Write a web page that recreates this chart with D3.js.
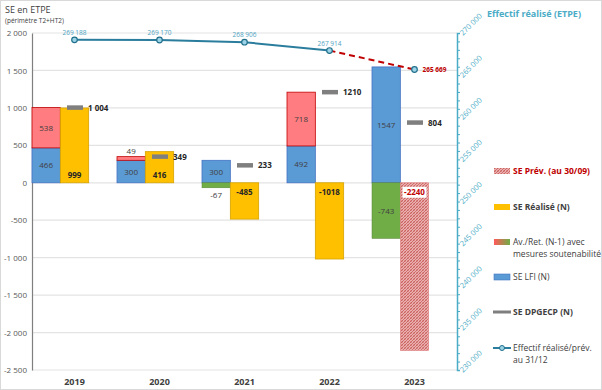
<!DOCTYPE html>
<html><head><meta charset="utf-8">
<script src="https://cdn.jsdelivr.net/npm/d3@7"></script>
<style>
body{margin:0;background:#fff;}
svg{display:block;font-family:"Open Sans",sans-serif;}
</style></head>
<body><svg id="c" width="602" height="390"></svg>
<script>
const years = ["2019","2020","2021","2022","2023"];
const lfi = [466, 300, 300, 492, 1547];
const avRet = [538, 49, -67, 718, -743];
const realise = [999, 416, -485, -1018, null];
const prev = [null, null, null, null, -2240];
const dpgecp = [1004, 349, 233, 1210, 804];
const dpgecpLabels = ["1 004", "349", "233", "1210", "804"];
const effectif = [269188, 269170, 268906, 267914, 265669];
const effectifLabels = ["269 188","269 170","268 906","267 914","265 669"];
const leftTicks = [2000,1500,1000,500,0,-500,-1000,-1500,-2000,-2500];
const rightTicks = [270000,265000,260000,255000,250000,245000,240000,235000,230000];

const svg = d3.select("#c");
const fmt = v => { const s = d3.format(",")(Math.abs(v)).replace(/,/g," "); return (v<0?"-":"")+s; };

svg.append("rect").attr("x",0.5).attr("y",0.5).attr("width",601).attr("height",389)
  .attr("fill","none").attr("stroke","#d9d9d9");

const y = d3.scaleLinear().domain([-2500,2000]).range([370,33]);
const yR = d3.scaleLinear().domain([230000,270000]).range([370,33]);
const x = d3.scaleBand().domain(years).range([32,457]).paddingInner(0);
const bw = x.bandwidth()/3;

const defs = svg.append("defs");
const pat = defs.append("pattern").attr("id","hatch").attr("patternUnits","userSpaceOnUse")
  .attr("width",3).attr("height",3);
pat.append("rect").attr("width",3).attr("height",3).attr("fill","#eab0b0");
pat.append("path").attr("d","M0,3 L3,0 M-1,1 L1,-1 M2,4 L4,2").attr("stroke","#c0504d").attr("stroke-width",0.8);
pat.append("path").attr("d","M0,0 L3,3").attr("stroke","#d87878").attr("stroke-width",0.6);
const grad = defs.append("linearGradient").attr("id","rg");
grad.append("stop").attr("offset","0%").attr("stop-color","#ff5a5a");
grad.append("stop").attr("offset","100%").attr("stop-color","#70ad47");

svg.append("g").selectAll("line").data(leftTicks).join("line")
  .attr("x1",32).attr("x2",457).attr("y1",d=>y(d)).attr("y2",d=>y(d))
  .attr("stroke","#e3e3e3").attr("stroke-width",1.2);

const la = svg.append("g").attr("transform","translate(32,0)")
  .call(d3.axisLeft(y).tickValues(leftTicks).tickSize(0).tickPadding(5).tickFormat(fmt));
la.select(".domain").attr("stroke","#7f7f7f").attr("stroke-width",1.2);
la.selectAll("text").attr("font-size",8).attr("fill","#595959").attr("font-family","Open Sans");

const ra = svg.append("g").attr("transform","translate(457,0)")
  .call(d3.axisRight(yR).ticks(40).tickSize(3).tickFormat(""));
ra.select(".domain").attr("stroke","#4bacc6").attr("stroke-width",1.5);
ra.selectAll(".tick line").attr("stroke","#4bacc6");
svg.append("g").selectAll("text").data(rightTicks).join("text")
  .attr("transform",d=>`translate(463,${yR(d)+3}) rotate(-45)`)
  .attr("font-size",7.5).attr("fill","#4bacc6").text(fmt);

svg.append("text").attr("x",5).attr("y",13).attr("font-size",9).attr("fill","#404040").text("SE en ETPE");
svg.append("text").attr("x",5).attr("y",23).attr("font-size",6.5).attr("fill","#404040").text("(périmètre T2+HT2)");
svg.append("text").attr("x",487).attr("y",17).attr("font-size",9).attr("font-weight","bold").attr("fill","#4bacc6").text("Effectif réalisé (ETPE)");

const g = svg.append("g");
years.forEach((yr,i)=>{
  const x0 = x(yr);
  g.append("rect").attr("x",x0).attr("width",bw).attr("y",y(lfi[i])).attr("height",y(0)-y(lfi[i]))
    .attr("fill","#5b9bd5").attr("stroke","#4472c4").attr("stroke-width",0.8);
  const a = avRet[i];
  if (a>=0){
    g.append("rect").attr("x",x0).attr("width",bw).attr("y",y(lfi[i]+a)).attr("height",y(lfi[i])-y(lfi[i]+a))
      .attr("fill","#ff7c80").attr("stroke","#c00000").attr("stroke-width",0.8);
  } else {
    g.append("rect").attr("x",x0).attr("width",bw).attr("y",y(0)).attr("height",y(a)-y(0))
      .attr("fill","#70ad47").attr("stroke","#548235").attr("stroke-width",0.5);
  }
  const r = realise[i];
  if (r!==null){
    g.append("rect").attr("x",x0+bw).attr("width",bw).attr("y",y(Math.max(r,0))).attr("height",Math.abs(y(r)-y(0)))
      .attr("fill","#ffc000").attr("stroke","#d6a300").attr("stroke-width",0.8);
  }
  const p = prev[i];
  if (p!==null){
    g.append("rect").attr("x",x0+bw).attr("width",bw).attr("y",y(0)).attr("height",y(p)-y(0))
      .attr("fill","url(#hatch)").attr("stroke","#e08080").attr("stroke-width",0.6);
  }
});

const lab = svg.append("g").attr("font-size",8).attr("text-anchor","middle");
years.forEach((yr,i)=>{
  const cx = x(yr)+bw/2;
  lab.append("text").attr("x",cx).attr("y",(y(lfi[i])+y(0))/2+3).attr("fill","#404040").text(lfi[i]);
  const a = avRet[i];
  let ay;
  if (a>=0){ ay = (y(lfi[i])-y(lfi[i]+a)) > 14 ? (y(lfi[i]+a)+y(lfi[i]))/2+3 : y(lfi[i]+a)-3; }
  else { ay = (y(a)-y(0)) > 14 ? (y(a)+y(0))/2+3 : y(a)+10; }
  lab.append("text").attr("x",cx).attr("y",ay).attr("fill","#404040").text(a);
  const r = realise[i];
  if (r!==null){
    lab.append("text").attr("x",cx+bw).attr("y",r>=0?y(0)-5:y(0)+12).attr("font-weight","bold").attr("fill","#262626").text(r);
  }
  const p = prev[i];
  if (p!==null){
    lab.append("rect").attr("x",cx+bw-12).attr("y",y(0)+4).attr("width",24).attr("height",11).attr("fill","#fff");
    lab.append("text").attr("x",cx+bw).attr("y",y(0)+12.5).attr("font-weight","bold").attr("fill","#c00000").text(p);
  }
  svg.append("line").attr("x1",x(yr)+35).attr("x2",x(yr)+51).attr("y1",y(dpgecp[i])).attr("y2",y(dpgecp[i]))
    .attr("stroke","#7f7f7f").attr("stroke-width",4.5);
  svg.append("text").attr("x",x(yr)+56).attr("y",y(dpgecp[i])+3).attr("font-size",8).attr("font-weight","bold")
    .attr("fill","#262626").text(dpgecpLabels[i]);
});

const pts = years.map((yr,i)=>[x(yr)+x.bandwidth()/2, yR(effectif[i])]);
const line = d3.line();
svg.append("path").attr("d",line(pts.slice(0,4))).attr("fill","none").attr("stroke","#2a7d9c").attr("stroke-width",2);
svg.append("path").attr("d",line(pts.slice(3))).attr("fill","none").attr("stroke","#c00000").attr("stroke-width",2).attr("stroke-dasharray","6,4");
svg.append("g").selectAll("circle").data(pts).join("circle")
  .attr("cx",d=>d[0]).attr("cy",d=>d[1]).attr("r",2.8)
  .attr("fill","#9dd3e6").attr("stroke","#1f6f8b").attr("stroke-width",1.2);
pts.forEach((p,i)=>{
  if (i<4) svg.append("text").attr("x",p[0]).attr("y",p[1]-5).attr("text-anchor","middle")
    .attr("font-size",6.5).attr("fill","#4fa3bf").text(effectifLabels[i]);
  else svg.append("text").attr("x",p[0]+8).attr("y",p[1]+2.5)
    .attr("font-size",6.5).attr("font-weight","bold").attr("fill","#c00000").text(effectifLabels[i]);
});

svg.append("g").selectAll("text").data(years).join("text")
  .attr("x",d=>x(d)+x.bandwidth()/2).attr("y",385).attr("text-anchor","middle")
  .attr("font-size",9).attr("font-weight","bold").attr("fill","#404040").text(d=>d);

const L = svg.append("g").attr("font-size",8.5);
const items = [
  {y:172, type:"rect", fill:"url(#hatch)", lines:["SE Prév. (au 30/09)"], color:"#c00000", bold:true},
  {y:208, type:"rect", fill:"#ffc000", lines:["SE Réalisé (N)"], color:"#404040", bold:true},
  {y:243, type:"rect", fill:"url(#rg)", lines:["Av./Ret. (N-1) avec","mesures soutenabilité"], color:"#404040", bold:false},
  {y:278, type:"rect", fill:"#5b9bd5", lines:["SE LFI (N)"], color:"#404040", bold:false},
  {y:313, type:"line", lines:["SE DPGECP (N)"], color:"#404040", bold:true},
  {y:349, type:"marker", lines:["Effectif réalisé/prév.","au 31/12"], color:"#404040", bold:false}
];
items.forEach(it=>{
  if (it.type==="rect") L.append("rect").attr("x",494).attr("y",it.y-4).attr("width",16).attr("height",6).attr("fill",it.fill)
    .attr("stroke",it.fill==="#5b9bd5"?"#4472c4":"none").attr("stroke-width",0.6);
  else if (it.type==="line") L.append("line").attr("x1",493).attr("x2",511).attr("y1",it.y-1).attr("y2",it.y-1).attr("stroke","#7f7f7f").attr("stroke-width",3);
  else {
    L.append("line").attr("x1",493).attr("x2",511).attr("y1",it.y-1).attr("y2",it.y-1).attr("stroke","#2a7d9c").attr("stroke-width",2);
    L.append("circle").attr("cx",502).attr("cy",it.y-1).attr("r",2.5).attr("fill","#9dd3e6").attr("stroke","#1f6f8b");
  }
  it.lines.forEach((t,j)=>L.append("text").attr("x",513).attr("y",it.y+2+j*12).attr("fill",it.color)
    .attr("font-weight",it.bold?"bold":"normal").text(t));
});
</script></body></html>
